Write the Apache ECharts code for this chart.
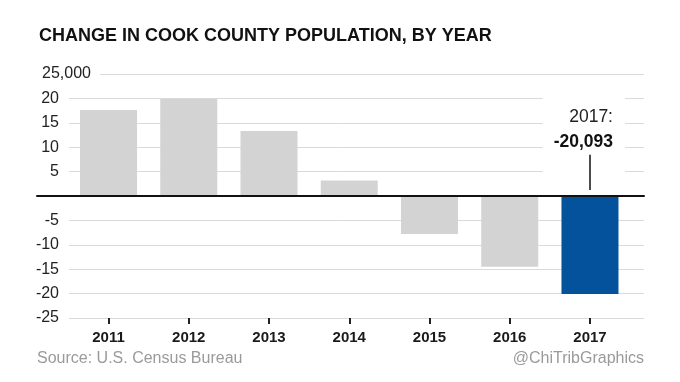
<!DOCTYPE html>
<html><head><meta charset="utf-8">
<script src="https://cdn.jsdelivr.net/npm/echarts@6/dist/echarts.min.js"></script>
<style>html,body{margin:0;padding:0;background:#fff}#c{width:680px;height:382px}</style>
</head><body><div id="c"></div>
<script>
// ---- data ----
const years = ['2011', '2012', '2013', '2014', '2015', '2016', '2017'];
const changes = [17600, 19900, 13300, 3200, -7800, -14500, -20093];
const yTickValues = [-25000, -20000, -15000, -10000, -5000, 0, 5000, 10000, 15000, 20000, 25000];
const yTickLabels = ['-25', '-20', '-15', '-10', '-5', '', '5', '10', '15', '20', '25,000'];
const highlightYear = '2017';
const titleText = 'CHANGE IN COOK COUNTY POPULATION, BY YEAR';
const sourceText = 'Source: U.S. Census Bureau';
const creditText = '@ChiTribGraphics';

// ---- styling ----
const FONT = '"Liberation Sans", Arial, Helvetica, sans-serif';
const GRAY = '#d3d3d3';
const BLUE = '#03529b';
const GRID_TOP = 74, GRID_H = 244;
const yMin = yTickValues[0], yMax = yTickValues[yTickValues.length - 1], yStep = 5000;
const hiIndex = years.indexOf(highlightYear);
const hiValue = changes[hiIndex];

const chart = echarts.init(document.getElementById('c'), null, {renderer: 'canvas'});
chart.setOption({
  animation: false,
  backgroundColor: '#fff',
  title: {
    text: titleText, left: 34, top: 22,
    textStyle: {fontFamily: FONT, fontSize: 18, fontWeight: 'bold', color: '#111'}
  },
  grid: [
    {left: 37, right: 36, top: GRID_TOP, height: GRID_H},
    {left: 68.4, right: 49.9, top: GRID_TOP, height: GRID_H}
  ],
  xAxis: [
    {gridIndex: 0, type: 'category', data: years, z: 3,
     axisLine: {show: true, onZero: true, lineStyle: {color: '#111', width: 2}},
     axisTick: {show: false}, axisLabel: {show: false}, splitLine: {show: false}},
    {gridIndex: 1, type: 'category', data: years,
     axisLine: {show: false, onZero: false},
     axisTick: {show: true, alignWithLabel: true, length: 6, lineStyle: {color: '#222', width: 2}},
     axisLabel: {margin: 12, fontFamily: FONT, fontSize: 15, fontWeight: 'bold', color: '#1a1a1a'},
     splitLine: {show: false}}
  ],
  yAxis: [
    {gridIndex: 0, type: 'value', min: yMin, max: yMax, interval: yStep,
     axisLine: {show: false}, axisTick: {show: false},
     splitLine: {show: true, lineStyle: {color: '#dadada', width: 1}},
     axisLabel: {
       show: true, align: 'left', margin: 0,
       fontFamily: FONT, fontSize: 16, color: '#222',
       formatter: function (v) {
         const i = yTickValues.indexOf(v);
         const t = i >= 0 ? yTickLabels[i] : '';
         if (!t) return '';
         return v === yMax ? '{m|' + t + '}' : '{n|' + t + '}';
       },
       rich: {
         n: {width: 22, align: 'right', padding: [0, 10, 0, 0], backgroundColor: '#fff',
             fontFamily: FONT, fontSize: 16, color: '#222'},
         m: {align: 'left', padding: [0, 9, 0, 5], backgroundColor: '#fff',
             fontFamily: FONT, fontSize: 16, color: '#222'}
       }
     }},
    {gridIndex: 1, type: 'value', min: yMin, max: yMax, interval: yStep, show: false,
     splitLine: {show: false}}
  ],
  series: [{
    type: 'bar', xAxisIndex: 1, yAxisIndex: 1, barWidth: 57,
    data: changes.map((v, i) => ({value: v, itemStyle: {color: years[i] === highlightYear ? BLUE : GRAY}})),
    markPoint: {
      z: 5, silent: true, symbol: 'circle', symbolSize: 0,
      data: [{coord: [highlightYear, 12400]}],
      label: {
        show: true, position: 'inside', align: 'right', verticalAlign: 'middle', offset: [35, 0],
        backgroundColor: '#fff', padding: [12, 12, 24, 11], lineHeight: 25,
        formatter: function () {
          return '{a|' + highlightYear + ':}\n{b|' + hiValue.toLocaleString('en-US') + '}';
        },
        rich: {
          a: {fontFamily: FONT, fontSize: 17.5, color: '#222', lineHeight: 25, align: 'right'},
          b: {fontFamily: FONT, fontSize: 17.5, fontWeight: 'bold', color: '#111', lineHeight: 25, align: 'right'}
        }
      }
    },
    markLine: {
      z: 6, silent: true, symbol: ['none', 'none'],
      label: {show: false},
      lineStyle: {color: '#111', width: 1.5, type: 'solid'},
      data: [[{coord: [highlightYear, 8450]}, {coord: [highlightYear, 1250]}]]
    }
  }],
  graphic: [
    {type: 'text', left: 37, top: 351, style: {text: sourceText, font: '16px ' + FONT, fill: '#9a9a9a'}},
    {type: 'text', right: 36, top: 351, style: {text: creditText, font: '16px ' + FONT, fill: '#9a9a9a'}}
  ]
});
</script>
</body></html>
